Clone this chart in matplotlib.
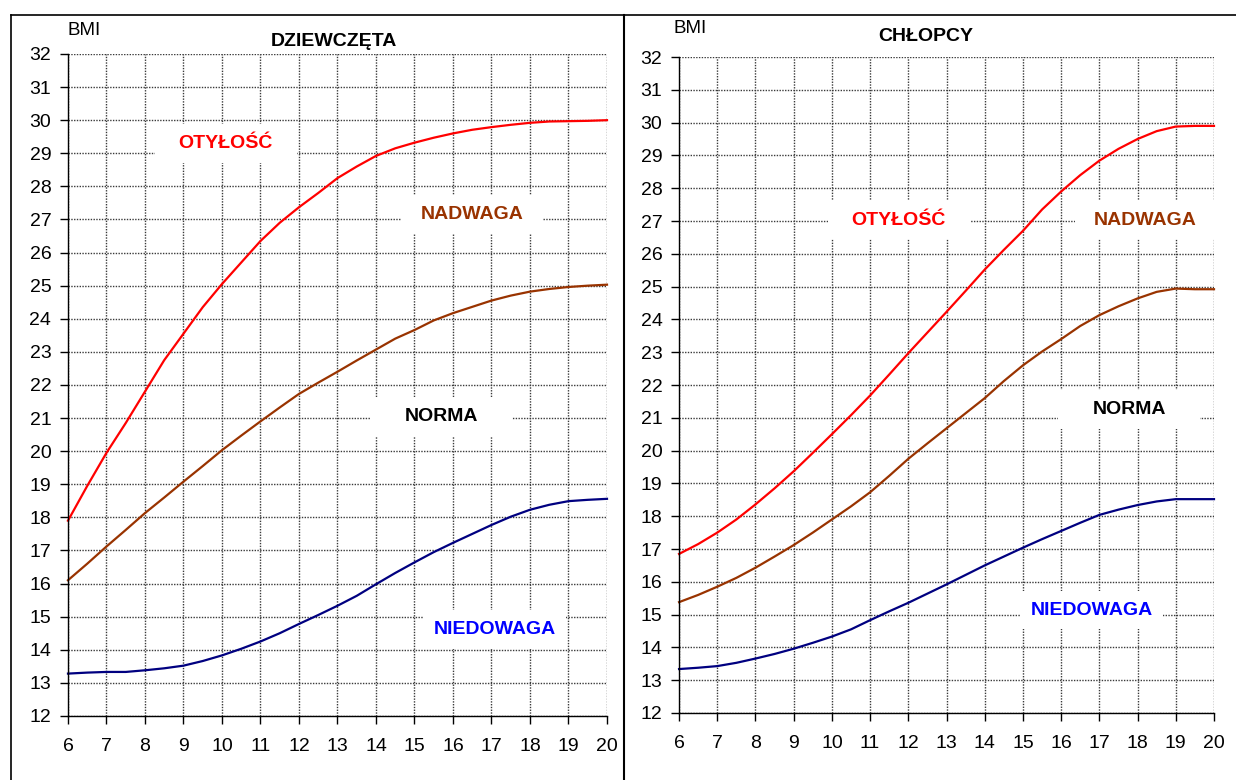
import matplotlib
matplotlib.use('Agg')
import matplotlib.pyplot as plt
from matplotlib.lines import Line2D
from matplotlib.path import Path

plt.rcParams['font.family'] = ['Liberation Sans', 'DejaVu Sans']

# age (years), half-year steps
ages = [6, 6.5, 7, 7.5, 8, 8.5, 9, 9.5, 10, 10.5, 11, 11.5, 12, 12.5, 13,
        13.5, 14, 14.5, 15, 15.5, 16, 16.5, 17, 17.5, 18, 18.5, 19, 19.5, 20]

# girls - BMI boundaries
girls_obesity = [17.9, 18.95, 19.95, 20.85, 21.8, 22.75, 23.55, 24.35, 25.05, 25.7,
                 26.35, 26.9, 27.37, 27.8, 28.25, 28.6, 28.92, 29.15, 29.32, 29.47,
                 29.6, 29.71, 29.79, 29.86, 29.92, 29.96, 29.97, 29.98, 30.0]
girls_overweight = [16.1, 16.6, 17.12, 17.62, 18.13, 18.6, 19.08, 19.55, 20.03, 20.47,
                    20.9, 21.32, 21.73, 22.07, 22.4, 22.74, 23.07, 23.4, 23.66, 23.95,
                    24.17, 24.36, 24.55, 24.7, 24.82, 24.9, 24.96, 25.0, 25.03]
girls_underweight = [13.28, 13.31, 13.33, 13.33, 13.38, 13.44, 13.52, 13.66, 13.83, 14.03,
                     14.25, 14.5, 14.78, 15.05, 15.33, 15.63, 15.98, 16.32, 16.64, 16.95,
                     17.23, 17.5, 17.77, 18.02, 18.23, 18.38, 18.49, 18.53, 18.56]

# boys - BMI boundaries
boys_obesity = [16.85, 17.15, 17.5, 17.9, 18.36, 18.85, 19.37, 19.93, 20.5, 21.08,
                21.68, 22.32, 22.97, 23.6, 24.23, 24.87, 25.52, 26.12, 26.7, 27.35,
                27.9, 28.4, 28.84, 29.2, 29.5, 29.74, 29.88, 29.9, 29.9]
boys_overweight = [15.38, 15.6, 15.85, 16.12, 16.43, 16.77, 17.12, 17.5, 17.9, 18.3,
                   18.73, 19.23, 19.75, 20.22, 20.68, 21.14, 21.6, 22.12, 22.6, 23.02,
                   23.4, 23.8, 24.13, 24.4, 24.64, 24.84, 24.94, 24.92, 24.92]
boys_underweight = [13.34, 13.38, 13.43, 13.53, 13.66, 13.8, 13.96, 14.14, 14.33, 14.55,
                    14.83, 15.1, 15.36, 15.64, 15.92, 16.21, 16.5, 16.77, 17.04, 17.3,
                    17.55, 17.8, 18.04, 18.2, 18.34, 18.45, 18.52, 18.52, 18.52]

x_ticks = list(range(6, 21))
y_ticks = list(range(12, 33))

RED = '#ff0000'
BROWN = '#993300'
NAVY = '#000080'


def fixed_box(x0, y0, width, height, mutation_size):
    # white label box of fixed size, centred on the text (like the Excel text boxes)
    cx = x0 + width / 2
    cy = y0 + height / 2
    hw = 3.65 * mutation_size
    hh = 1.0 * mutation_size
    verts = [(cx - hw, cy - hh), (cx + hw, cy - hh), (cx + hw, cy + hh),
             (cx - hw, cy + hh), (cx - hw, cy - hh)]
    return Path(verts, closed=True)


def draw_panel(ax, curves, labels, title, title_pos, bmi_pos):
    for values, color in curves:
        ax.plot(ages, values, color=color, linewidth=1.6, zorder=3, clip_on=False)

    ax.set_xlim(6, 20)
    ax.set_ylim(12, 32)
    ax.set_xticks(x_ticks)
    ax.set_yticks(y_ticks)
    ax.set_axisbelow(True)
    ax.grid(True, color='#3a3a3a', linestyle=(0, (1, 1)), linewidth=1.0)

    for side in ['top', 'right']:
        ax.spines[side].set_visible(False)
    for side in ['left', 'bottom']:
        ax.spines[side].set_linewidth(1.0)
        ax.spines[side].set_zorder(4)

    ax.tick_params(axis='both', direction='out', length=6, width=1, labelsize=14)
    ax.tick_params(axis='x', pad=10)
    ax.tick_params(axis='y', pad=6)

    for text, x, y, color in labels:
        ax.text(x, y, text, color=color, fontsize=14, fontweight='bold',
                ha='center', va='center', zorder=5,
                bbox=dict(boxstyle=fixed_box, facecolor='white', edgecolor='none'))

    ax.text(title_pos[0], title_pos[1], title, transform=ax.transAxes,
            ha='center', va='center', fontsize=14, fontweight='bold')
    ax.text(bmi_pos[0], bmi_pos[1], 'BMI', transform=ax.transAxes,
            ha='left', va='center', fontsize=13.5)


fig = plt.figure(figsize=(12.36, 7.8), dpi=100, facecolor='white')

ax_girls = fig.add_axes([0.0550, 0.0821, 0.4361, 0.8487])
ax_boys = fig.add_axes([0.5494, 0.0859, 0.4328, 0.8410])

draw_panel(
    ax_girls,
    [(girls_obesity, RED), (girls_overweight, BROWN), (girls_underweight, NAVY)],
    [('OTYŁOŚĆ', 10.1, 29.3, RED), ('NADWAGA', 16.49, 27.15, BROWN),
     ('NORMA', 15.69, 21.05, 'black'), ('NIEDOWAGA', 17.09, 14.6, '#0000ff')],
    'DZIEWCZĘTA', (0.494, 1.019), (0.0, 1.036),
)

draw_panel(
    ax_boys,
    [(boys_obesity, RED), (boys_overweight, BROWN), (boys_underweight, NAVY)],
    [('OTYŁOŚĆ', 11.75, 27.03, RED), ('NADWAGA', 18.21, 27.03, BROWN),
     ('NORMA', 17.78, 21.24, 'black'), ('NIEDOWAGA', 16.8, 15.14, '#0000ff')],
    'CHŁOPCY', (0.462, 1.032), (-0.011, 1.044),
)

# panel frames
top = 1 - 15 / 780
fig.add_artist(Line2D([11 / 1236, 1.0], [top, top], color='black', linewidth=1.2))
fig.add_artist(Line2D([11 / 1236, 11 / 1236], [0, top], color='black', linewidth=1.2))
fig.add_artist(Line2D([624 / 1236, 624 / 1236], [0, top], color='black', linewidth=1.5))

fig.savefig('out.png', dpi=100)
